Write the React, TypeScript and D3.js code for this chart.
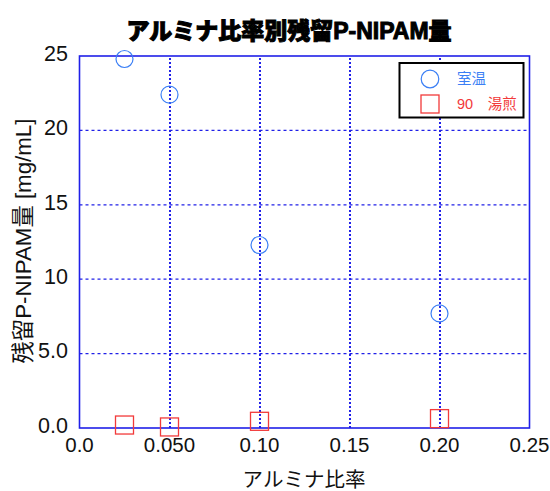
import React from "react";
import * as d3 from "d3";

const roomX = [0.025, 0.05, 0.1, 0.2];
const roomY = [24.8, 22.4, 12.3, 7.7];
const bathX = [0.025, 0.05, 0.1, 0.2];
const bathY = [0.2, 0.07, 0.45, 0.63];
const xTicks = [0, 0.05, 0.1, 0.15, 0.2, 0.25];
const xTickLabels = ["0.0", "0.050", "0.10", "0.15", "0.20", "0.25"];
const yTicks = [0, 5, 10, 15, 20, 25];
const yTickLabels = ["0.0", "5.0", "10", "15", "20", "25"];

const FONT = "'Liberation Sans', Arial, 'Noto Sans CJK JP', sans-serif";
const BLUE = "#3b7ff5";
const RED = "#f23a3a";
const GRID = "#2020e8";

export default function App() {
  const W = 550, H = 491;
  const x = d3.scaleLinear().domain([0, 0.25]).range([79.5, 529.5]);
  const y = d3.scaleLinear().domain([0, 25]).range([428, 56]);
  return (
    <svg width={W} height={H} style={{ position: "absolute", left: 0, top: 0, background: "#fff" }} fontFamily={FONT}>
      <text x={289} y={39} textAnchor="middle" fontSize={23} fontWeight={900} stroke="#000" strokeWidth={1} fill="#000">アルミナ比率別残留P-NIPAM量</text>
      {xTicks.slice(1, -1).map((t, i) => (
        <line key={"vx" + i} x1={x(t) + 0.5} x2={x(t) + 0.5} y1={y(0)} y2={y(25)} stroke={GRID} strokeWidth={2} strokeDasharray="2,2" />
      ))}
      {yTicks.slice(1, -1).map((t, i) => (
        <line key={"hy" + i} x1={x(0)} x2={x(0.25)} y1={y(t)} y2={y(t)} stroke={GRID} strokeWidth={1.2} strokeDasharray="3,3" />
      ))}
      <rect x={x(0)} y={y(25)} width={x(0.25) - x(0)} height={y(0) - y(25)} fill="none" stroke={GRID} strokeWidth={1.6} />
      {xTicks.map((t, i) => (
        <text key={"xt" + i} x={x(t)} y={452} textAnchor="middle" fontSize={20.5} fill="#111">{xTickLabels[i]}</text>
      ))}
      {yTicks.map((t, i) => (
        <text key={"yt" + i} x={68} y={y(t) + 4.8} textAnchor="end" fontSize={21.5} fill="#111">{yTickLabels[i]}</text>
      ))}
      <text x={304} y={487} textAnchor="middle" fontSize={20.5} fill="#111">アルミナ比率</text>
      <text transform={`translate(31,241) rotate(-90)`} textAnchor="middle" fontSize={22.3} fill="#111">残留P-NIPAM量  [mg/mL]</text>
      {roomX.map((v, i) => (
        <circle key={"c" + i} cx={x(v)} cy={y(roomY[i])} r={8.5} fill="none" stroke={BLUE} strokeWidth={1.2} />
      ))}
      {bathX.map((v, i) => (
        <rect key={"s" + i} x={x(v) - 9} y={y(bathY[i]) - 9} width={18} height={18} fill="none" stroke={RED} strokeWidth={1.3} />
      ))}
      <rect x={399.5} y={63} width={124} height={54.5} fill="#fff" stroke="#000" strokeWidth={2} />
      <circle cx={430} cy={79} r={8.8} fill="none" stroke={BLUE} strokeWidth={1.2} />
      <text x={457} y={84} fontSize={14.5} fill={BLUE}>室温</text>
      <rect x={421} y={95} width={18} height={18} fill="none" stroke={RED} strokeWidth={1.3} />
      <text x={457} y={109} fontSize={14.5} fill={RED}>90　湯煎</text>
    </svg>
  );
}
